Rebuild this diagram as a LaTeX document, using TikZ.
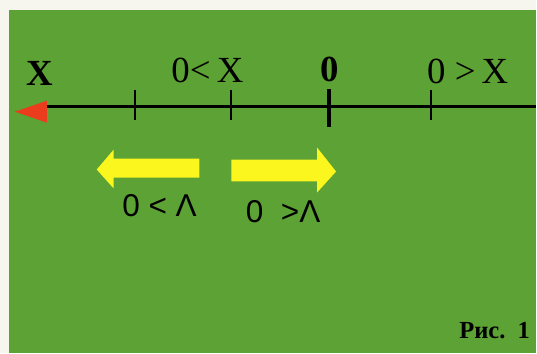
\documentclass[tikz,border=0pt]{standalone}
\usepackage{fontspec}
\setmainfont{Liberation Serif}
\newfontfamily\labelsans{Liberation Sans}
\usetikzlibrary{positioning}
\definecolor{grass}{RGB}{92,162,52}
\definecolor{paper}{RGB}{246,246,238}
\definecolor{signyellow}{RGB}{250,246,30}
\definecolor{tipred}{RGB}{236,60,30}

\begin{document}
\begin{tikzpicture}[x=0.02cm,y=-0.02cm,
    toplabel/.style={font=\fontsize{21}{24}\selectfont,inner sep=0pt},
    botlabel/.style={font=\labelsans\fontsize{18}{21}\selectfont,inner sep=0pt}]
              \fill[paper] (0,0) rectangle (537,354);
              \fill[grass] (9,10) rectangle (537,354);
              % number line
              \coordinate (axisleft) at (47,107);
              \coordinate (axisright) at (537,107);
              \draw[line width=1.7pt] (axisleft) -- (axisright);
              \fill[tipred] (15,112) -- (47,101) -- (47,123) -- cycle;
              \foreach \x/\name in {135/ta,232/tb,432/td}
                \draw[line width=1.1pt] (\x,90) coordinate (\name) -- (\x,120);
              \draw[line width=2.2pt] (330,89) coordinate (tc) -- (330,127);
              \node[toplabel,font=\fontsize{21}{24}\selectfont\bfseries] (xname) at (40,74) {X};
              \node[toplabel] (xpos) at (208,71) {0<\,X};
              \node[toplabel,font=\fontsize{21}{24}\selectfont\bfseries] (zero) at (331,70) {0};
              \node[toplabel] (xneg) at (469,72) {0 >\,X};
              % yellow arrows
              \fill[signyellow] (97,170) -- (114,150) -- (114,159) -- (200,159)
                -- (200,178) -- (114,178) -- (114,189) -- cycle;
              \fill[signyellow] (232,160) -- (318,160) -- (318,148) -- (337,172)
                -- (318,193) -- (318,182) -- (232,182) -- cycle;
              \node[botlabel] (vleft) at (160,206) {0 < Λ};
              \node[botlabel] (vright) at (284,212) {0 \ >Λ};
              \node[font=\fontsize{14}{16}\selectfont\bfseries,inner sep=0pt] (caption) at (496,331) {Рис.\ \ 1};
            \end{tikzpicture}
\end{document}
